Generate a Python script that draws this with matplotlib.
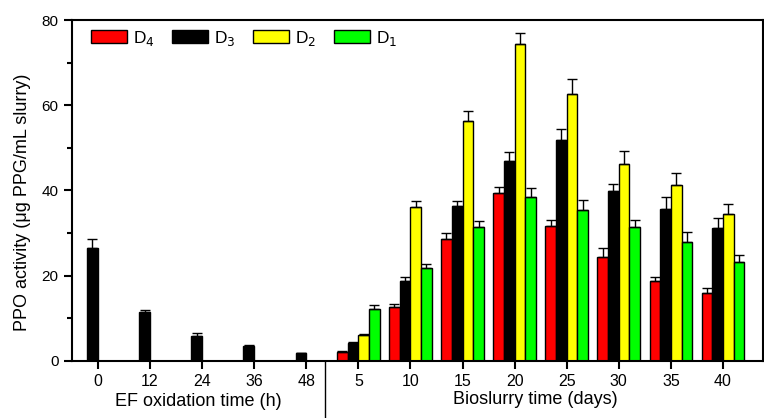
import matplotlib
matplotlib.use("Agg")
import matplotlib.pyplot as plt
import matplotlib.transforms as mtransforms
import numpy as np

plt.rcParams['font.family'] = ['Liberation Sans', 'DejaVu Sans']

# ---- data ----
ef_labels = ['0', '12', '24', '36', '48']
ef_d3 = [26.4, 11.5, 5.85, 3.5, 1.7]
ef_d3_err = [2.1, 0.5, 0.6, 0.2, 0.1]

bio_labels = ['5', '10', '15', '20', '25', '30', '35', '40']
d4 = [2.0, 12.6, 28.5, 39.4, 31.7, 24.3, 18.6, 15.8]
d4_err = [0.3, 0.7, 1.4, 1.4, 1.4, 2.1, 1.0, 1.2]
d3 = [4.2, 18.6, 36.3, 46.8, 51.9, 39.8, 35.6, 31.1]
d3_err = [0.1, 1.0, 1.3, 2.2, 2.5, 1.8, 2.9, 2.5]
d2 = [6.0, 36.0, 56.3, 74.3, 62.6, 46.2, 41.3, 34.5]
d2_err = [0.3, 1.4, 2.3, 2.7, 3.5, 3.0, 2.8, 2.4]
d1 = [12.1, 21.7, 31.5, 38.5, 35.3, 31.3, 27.8, 23.1]
d1_err = [0.9, 1.1, 1.4, 2.0, 2.4, 1.8, 2.5, 1.8]

series_names = ['D$_4$', 'D$_3$', 'D$_2$', 'D$_1$']
colors = ['#ff0000', '#000000', '#ffff00', '#00ff00']

# ---- figure ----
W, H = 764, 418
fig = plt.figure(figsize=(W / 100, H / 100), dpi=100)
ax = fig.add_axes([72.3 / W, 1 - 360.7 / H, (762.6 - 72.3) / W, (360.7 - 20) / H])

w = 0.205
offsets = [-1.5 * w, -0.5 * w, 0.5 * w, 1.5 * w]

n_ef = len(ef_labels)
x_ef = np.arange(n_ef)
x_bio = np.arange(len(bio_labels)) + n_ef

err_kw = dict(fmt='none', ecolor='black', elinewidth=1.0, capsize=3.5, capthick=1.0, zorder=3)

# EF oxidation: only D3
ax.bar(x_ef + offsets[1], ef_d3, width=w, color=colors[1], edgecolor='black', linewidth=1.0, zorder=2)
ax.errorbar(x_ef + offsets[1], ef_d3, yerr=[np.zeros(n_ef), ef_d3_err], **err_kw)

bio_series = [(d4, d4_err), (d3, d3_err), (d2, d2_err), (d1, d1_err)]
handles = []
for i, (vals, errs) in enumerate(bio_series):
    b = ax.bar(x_bio + offsets[i], vals, width=w, color=colors[i], edgecolor='black',
               linewidth=1.0, zorder=2, label=series_names[i])
    handles.append(b)
    ax.errorbar(x_bio + offsets[i], vals, yerr=[np.zeros(len(vals)), errs], **err_kw)

ax.set_xlim(-0.49, 12.76)
ax.set_ylim(0, 80)
ax.set_xticks(np.concatenate([x_ef, x_bio]))
ax.set_xticklabels(ef_labels + bio_labels, fontsize=11.5)
ax.set_yticks([0, 20, 40, 60, 80])
ax.set_yticks([10, 30, 50, 70], minor=True)
ax.tick_params(axis='y', which='major', direction='out', length=6, width=1.5, labelsize=11, pad=4)
ax.tick_params(axis='y', which='minor', direction='out', length=3.5, width=1.5)
ax.tick_params(axis='x', which='major', direction='out', length=6, width=1.5, pad=3.5)
for s in ax.spines.values():
    s.set_linewidth(1.5)

# divider line below axis
trans = mtransforms.blended_transform_factory(ax.transData, ax.transAxes)
ax.plot([4.36, 4.36], [0, -0.3], transform=trans, color='black', lw=1.0, clip_on=False)

fig.text(198 / W, 1 - 401 / H, 'EF oxidation time (h)', ha='center', va='center', fontsize=13)
fig.text(535 / W, 1 - 400 / H, 'Bioslurry time (days)', ha='center', va='center', fontsize=13)
fig.text(23 / W, 1 - 202.5 / H, 'PPO activity (\u03bcg PPG/mL slurry)', ha='center', va='center',
         rotation=90, fontsize=13)

leg = ax.legend(handles=handles, loc='upper left', bbox_to_anchor=(0.012, 1.005), ncol=4,
                frameon=False, fontsize=12.5, handlelength=2.07, handleheight=0.75,
                handletextpad=0.35, columnspacing=1.0, borderaxespad=0.2)

fig.savefig('out.png', dpi=100)
